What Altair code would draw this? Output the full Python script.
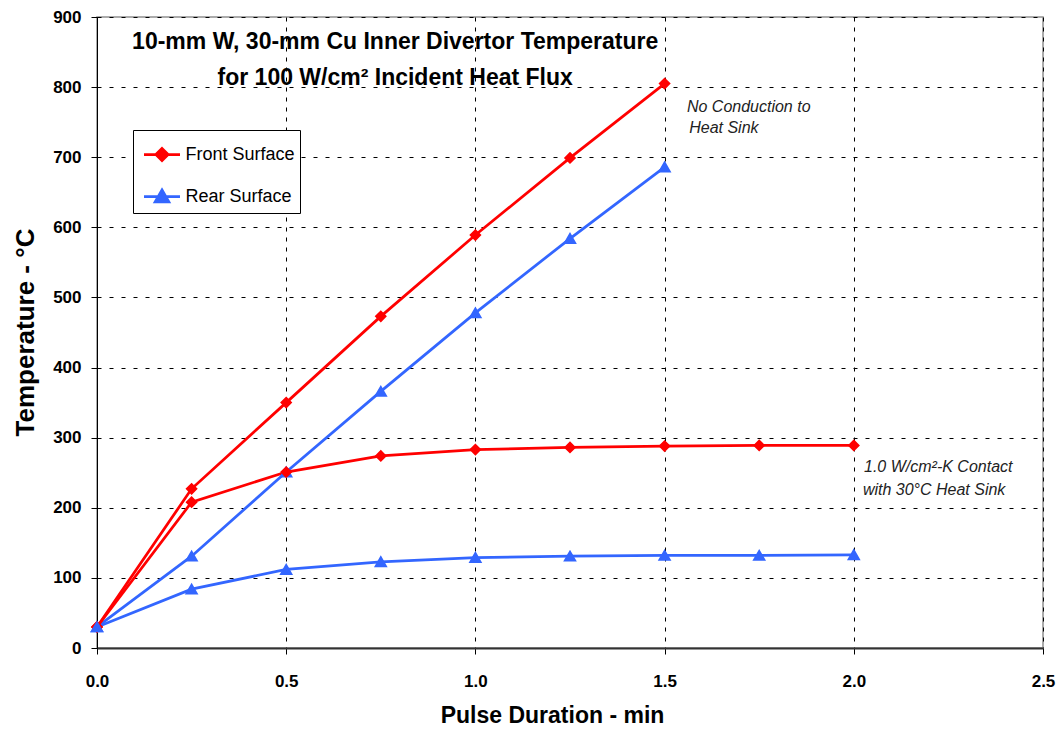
import altair as alt
import pandas as pd

# ---- data ----
x_no_contact = [0.0, 0.25, 0.5, 0.75, 1.0, 1.25, 1.5]
front_no_contact = [30, 227, 350, 473, 589, 699, 805]
rear_no_contact = [30, 131, 251, 366, 478, 584, 686]

x_contact = [0.0, 0.25, 0.5, 0.75, 1.0, 1.25, 1.5, 1.75, 2.0]
front_contact = [30, 208, 251, 274, 283, 286, 288, 289, 289]
rear_contact = [30, 84, 112, 123, 129, 131, 132, 132, 133]

series_names = ["Front Surface", "Rear Surface"]
series_colors = ["#FF0000", "#3366FF"]
x_ticks = [0.0, 0.5, 1.0, 1.5, 2.0, 2.5]
y_ticks = [0, 100, 200, 300, 400, 500, 600, 700, 800, 900]

title_lines = ["10-mm W, 30-mm Cu Inner Divertor Temperature",
               "for 100 W/cm\u00b2 Incident Heat Flux"]
title_x = [0.788, 0.788]
title_y = [864, 813]

note_lines = ["No Conduction to", " Heat Sink",
              "1.0 W/cm\u00b2-K Contact", "with 30\u00b0C Heat Sink"]
note_x = [1.559, 1.565, 2.027, 2.024]
note_y = [772, 742, 258, 225]

# ---- tables ----
rows = []
for case, xs, fr, rr in [("none", x_no_contact, front_no_contact, rear_no_contact),
                         ("contact", x_contact, front_contact, rear_contact)]:
    for x, v in zip(xs, fr):
        rows.append({"t": x, "T": v, "Surface": "Front Surface", "Case": case})
    for x, v in zip(xs, rr):
        rows.append({"t": x, "T": v, "Surface": "Rear Surface", "Case": case})
df = pd.DataFrame(rows)

title_df = pd.DataFrame({"x": title_x, "y": title_y, "text": title_lines})
note_df = pd.DataFrame({"x": note_x, "y": note_y, "text": note_lines})

FONT = "Liberation Sans"

# legend symbols: a line segment plus the marker (line part only shows when stroked)
diamond = "M-1,0L1,0M0,-0.34L0.34,0L0,0.34L-0.34,0Z"
triangle = "M-1,0L1,0M0,-0.36L0.38,0.3L-0.38,0.3Z"

legend = alt.Legend(
    title=None, orient="none", legendX=36, legendY=113,
    padding=5, rowPadding=10, symbolSize=1296, symbolOffset=4.5,
    labelOffset=4, labelFontSize=18, labelFont=FONT, labelColor="black",
    strokeColor="black", fillColor="white",
    labelExpr="datum.label + '\u00a0'",
    symbolStrokeColor={"expr": "scale('color', datum.value)"},
    symbolFillColor={"expr": "scale('color', datum.value)"},
    symbolStrokeWidth=2.75, symbolOpacity=1,
)

x_enc = alt.X("t:Q", scale=alt.Scale(domain=[0, 2.5], nice=False),
              axis=alt.Axis(values=x_ticks, format=".1f", title="Pulse Duration - min",
                            gridDash=[4, 6], labelPadding=19, labelFlush=False, titleY=67,
                            titleBaseline="middle", titleX=455, titleAnchor="middle",
                            titleFontSize=23,
                            domainWidth=2, domainColor="#333333"))
y_enc = alt.Y("T:Q", scale=alt.Scale(domain=[0, 900], nice=False),
              axis=alt.Axis(values=y_ticks, format="d", title="Temperature - \u00b0C",
                            gridDash=[4, 8], labelPadding=10, labelFlush=False,
                            titleX=-72, titleY=315, titleFontSize=26,
                            titleAngle=-90, titleBaseline="middle", titleAlign="center",
                            domainWidth=1, domainColor="black"))
color_enc = alt.Color("Surface:N", scale=alt.Scale(domain=series_names, range=series_colors),
                      legend=legend)

lines = alt.Chart(df).mark_line(strokeWidth=2.75).encode(
    x=x_enc, y=y_enc, color=color_enc, detail="Case:N"
)
points = alt.Chart(df).mark_point(filled=True, size=1296, opacity=1, strokeWidth=0).encode(
    x="t:Q", y="T:Q", color=color_enc,
    shape=alt.Shape("Surface:N", scale=alt.Scale(domain=series_names, range=[diamond, triangle]),
                    legend=legend),
    detail="Case:N",
)

titles = alt.Chart(title_df).mark_text(
    font=FONT, fontSize=23, fontWeight="bold", align="center", baseline="middle", color="black"
).encode(x="x:Q", y="y:Q", text="text:N")

notes = alt.Chart(note_df).mark_text(
    font=FONT, fontSize=16, fontStyle="italic", align="left", baseline="middle", color="#222222"
).encode(x="x:Q", y="y:Q", text="text:N")

chart = alt.layer(lines, points, titles, notes).properties(
    width=946, height=631,
    autosize=alt.AutoSizeParams(type="none"),
    padding={"left": 97, "top": 17, "right": 15, "bottom": 84},
    background="white",
).configure_view(
    stroke="#909090", strokeWidth=1.5
).configure_axis(
    labelFont=FONT, labelFontSize=17, labelFontWeight="bold", labelColor="black",
    titleFont=FONT, titleFontWeight="bold", titleColor="black",
    tickColor="black", tickSize=6, tickWidth=1,
    grid=True, gridColor="black", gridWidth=1, gridOpacity=1,
)

chart.save("out.html", embed_options={"renderer": "svg", "actions": False})
